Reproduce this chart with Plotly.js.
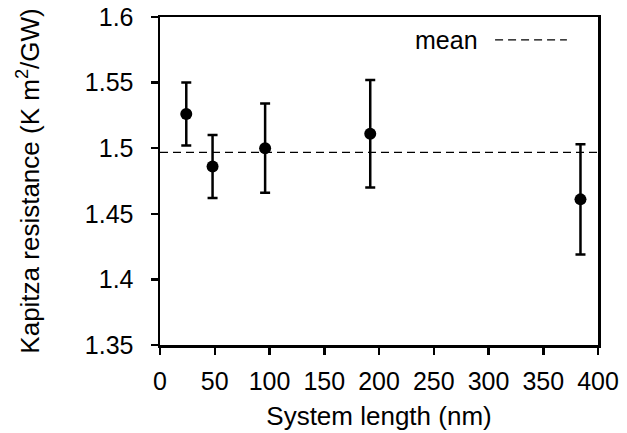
<!DOCTYPE html>
<html>
<head>
<meta charset="utf-8">
<script src="https://cdn.plot.ly/plotly-3.0.1.min.js"></script>
<style>html,body{margin:0;padding:0;background:#fff;}#chart{width:627px;height:433px;}</style>
</head>
<body>
<div id="chart"></div>
<script>
// System length (nm)
const systemLength = [24, 48, 96, 192, 384];
// Kapitza resistance (K m^2/GW)
const resistance = [1.526, 1.486, 1.500, 1.511, 1.461];
// Error (half-width)
const resistanceErr = [0.024, 0.024, 0.034, 0.041, 0.042];
const xTicks = [0, 50, 100, 150, 200, 250, 300, 350, 400];
const yTicks = [1.35, 1.4, 1.45, 1.5, 1.55, 1.6];
const yTickLabels = ['1.35', '1.4', '1.45', '1.5', '1.55', '1.6'];

const meanValue = resistance.reduce((a, b) => a + b, 0) / resistance.length;
const fontFam = 'Liberation Sans, Arial, sans-serif';

const traces = [
  {
    x: [xTicks[0], xTicks[xTicks.length - 1]],
    y: [meanValue, meanValue],
    mode: 'lines',
    line: {color: '#000', width: 1.2, dash: '8px,5px'},
    showlegend: false,
    hoverinfo: 'skip'
  },
  {
    x: systemLength,
    y: resistance,
    mode: 'markers',
    marker: {color: '#000', size: 12},
    error_y: {type: 'data', array: resistanceErr, visible: true, color: '#000', thickness: 2.5, width: 5},
    showlegend: false
  }
];

const layout = {
  width: 627,
  height: 433,
  margin: {l: 160, r: 29, t: 17, b: 88},
  paper_bgcolor: '#fff',
  plot_bgcolor: '#fff',
  font: {family: fontFam, size: 25, color: '#000'},
  showlegend: false,
  xaxis: {
    range: [0, 400],
    tickvals: xTicks,
    ticks: 'outside',
    ticklen: 7,
    tickwidth: 2.5,
    tickcolor: '#000',
    showline: true,
    linewidth: 2.5,
    linecolor: '#000',
    mirror: true,
    showgrid: false,
    zeroline: false,
    ticklabelstandoff: 5,
    tickfont: {size: 25},
    title: {text: 'System length (nm)', font: {size: 26}, standoff: 14}
  },
  yaxis: {
    range: [1.35, 1.6],
    tickvals: yTicks,
    ticktext: yTickLabels,
    ticks: 'outside',
    ticklen: 7,
    tickwidth: 2.5,
    tickcolor: '#000',
    showline: true,
    linewidth: 2.5,
    linecolor: '#000',
    mirror: true,
    showgrid: false,
    zeroline: false,
    ticklabelstandoff: 12,
    tickfont: {size: 25},
    title: {text: 'Kapitza resistance (K m<sup>2</sup>/GW)', font: {size: 26}, standoff: 38}
  },
  annotations: [
    {xref: 'paper', yref: 'paper', x: 0.731, y: 0.93, xanchor: 'right', yanchor: 'middle',
     text: 'mean', showarrow: false, font: {size: 25}}
  ],
  shapes: [
    {type: 'line', xref: 'paper', yref: 'paper', x0: 0.765, x1: 0.929, y0: 0.93, y1: 0.93,
     line: {color: '#000', width: 1.2, dash: '8px,5px'}}
  ]
};

Plotly.newPlot('chart', traces, layout, {displayModeBar: false, staticPlot: true});
</script>
</body>
</html>
